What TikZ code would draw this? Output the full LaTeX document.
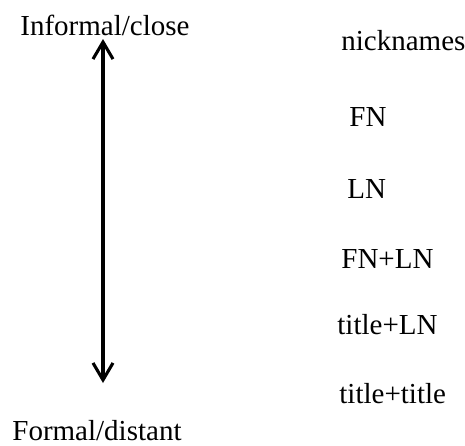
\documentclass[tikz,border=0pt]{standalone}
\usepackage{fontspec}
\setmainfont{Liberation Serif}
\usetikzlibrary{arrows.meta}
\begin{document}
\begin{tikzpicture}[x=0.5pt,y=-0.5pt,
  lbl/.style={anchor=base west,inner sep=0pt,font=\fontsize{14.5}{17}\selectfont},
  scalearrow/.style={line width=1.55pt,{Straight Barb[length=8.5pt,width=10pt]}-{Straight Barb[length=8.5pt,width=10pt]}}]
\useasboundingbox (0,0) rectangle (465,445);
\node[lbl] (inf) at (20,35) {Informal/close};
\node[lbl] (form) at (12,440) {Formal/distant};
\coordinate (top) at (103,39);
\coordinate (bot) at (103,383);
\draw[scalearrow] (top) -- (bot);
\node[lbl] (n1) at (341,50) {nicknames};
\node[lbl] (n2) at (349,126) {FN};
\node[lbl] (n3) at (347,198) {LN};
\node[lbl] (n4) at (341,268) {FN+LN};
\node[lbl] (n5) at (337,334) {title+LN};
\node[lbl] (n6) at (339,403) {title+title};
\end{tikzpicture}
\end{document}
